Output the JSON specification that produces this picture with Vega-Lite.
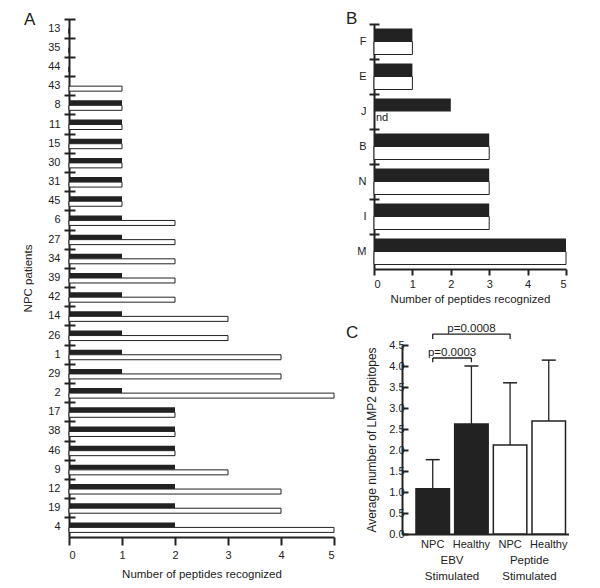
{
  "$schema": "https://vega.github.io/schema/vega-lite/v6.json",
  "padding": {"left": 22, "top": 10, "right": 0, "bottom": 0},
  "config": {
    "view": {"stroke": null},
    "font": "Liberation Sans",
    "axis": {"labelFont": "Liberation Sans", "titleFont": "Liberation Sans", "labelFontSize": 11, "titleFontSize": 11.5, "titleFontWeight": "normal", "labelColor": "#222", "titleColor": "#222", "domainColor": "#222", "tickColor": "#222", "domainWidth": 2, "tickWidth": 2, "grid": false, "labelOverlap": false},
    "title": {"font": "Liberation Sans", "fontSize": 17, "fontWeight": "normal", "anchor": "start", "frame": "group", "color": "#222", "baseline": "alphabetic"}
  },
  "datasets": {
    "panelA": [
      {"patient": "13", "stim": "EBV", "count": 0}, {"patient": "13", "stim": "Peptide", "count": 0},
      {"patient": "35", "stim": "EBV", "count": 0}, {"patient": "35", "stim": "Peptide", "count": 0},
      {"patient": "44", "stim": "EBV", "count": 0}, {"patient": "44", "stim": "Peptide", "count": 0},
      {"patient": "43", "stim": "EBV", "count": 0}, {"patient": "43", "stim": "Peptide", "count": 1},
      {"patient": "8", "stim": "EBV", "count": 1}, {"patient": "8", "stim": "Peptide", "count": 1},
      {"patient": "11", "stim": "EBV", "count": 1}, {"patient": "11", "stim": "Peptide", "count": 1},
      {"patient": "15", "stim": "EBV", "count": 1}, {"patient": "15", "stim": "Peptide", "count": 1},
      {"patient": "30", "stim": "EBV", "count": 1}, {"patient": "30", "stim": "Peptide", "count": 1},
      {"patient": "31", "stim": "EBV", "count": 1}, {"patient": "31", "stim": "Peptide", "count": 1},
      {"patient": "45", "stim": "EBV", "count": 1}, {"patient": "45", "stim": "Peptide", "count": 1},
      {"patient": "6", "stim": "EBV", "count": 1}, {"patient": "6", "stim": "Peptide", "count": 2},
      {"patient": "27", "stim": "EBV", "count": 1}, {"patient": "27", "stim": "Peptide", "count": 2},
      {"patient": "34", "stim": "EBV", "count": 1}, {"patient": "34", "stim": "Peptide", "count": 2},
      {"patient": "39", "stim": "EBV", "count": 1}, {"patient": "39", "stim": "Peptide", "count": 2},
      {"patient": "42", "stim": "EBV", "count": 1}, {"patient": "42", "stim": "Peptide", "count": 2},
      {"patient": "14", "stim": "EBV", "count": 1}, {"patient": "14", "stim": "Peptide", "count": 3},
      {"patient": "26", "stim": "EBV", "count": 1}, {"patient": "26", "stim": "Peptide", "count": 3},
      {"patient": "1", "stim": "EBV", "count": 1}, {"patient": "1", "stim": "Peptide", "count": 4},
      {"patient": "29", "stim": "EBV", "count": 1}, {"patient": "29", "stim": "Peptide", "count": 4},
      {"patient": "2", "stim": "EBV", "count": 1}, {"patient": "2", "stim": "Peptide", "count": 5},
      {"patient": "17", "stim": "EBV", "count": 2}, {"patient": "17", "stim": "Peptide", "count": 2},
      {"patient": "38", "stim": "EBV", "count": 2}, {"patient": "38", "stim": "Peptide", "count": 2},
      {"patient": "46", "stim": "EBV", "count": 2}, {"patient": "46", "stim": "Peptide", "count": 2},
      {"patient": "9", "stim": "EBV", "count": 2}, {"patient": "9", "stim": "Peptide", "count": 3},
      {"patient": "12", "stim": "EBV", "count": 2}, {"patient": "12", "stim": "Peptide", "count": 4},
      {"patient": "19", "stim": "EBV", "count": 2}, {"patient": "19", "stim": "Peptide", "count": 4},
      {"patient": "4", "stim": "EBV", "count": 2}, {"patient": "4", "stim": "Peptide", "count": 5}
    ],
    "panelB": [
      {"donor": "F", "stim": "EBV", "count": 1}, {"donor": "F", "stim": "Peptide", "count": 1},
      {"donor": "E", "stim": "EBV", "count": 1}, {"donor": "E", "stim": "Peptide", "count": 1},
      {"donor": "J", "stim": "EBV", "count": 2}, {"donor": "J", "stim": "Peptide", "count": null, "note": "nd"},
      {"donor": "B", "stim": "EBV", "count": 3}, {"donor": "B", "stim": "Peptide", "count": 3},
      {"donor": "N", "stim": "EBV", "count": 3}, {"donor": "N", "stim": "Peptide", "count": 3},
      {"donor": "I", "stim": "EBV", "count": 3}, {"donor": "I", "stim": "Peptide", "count": 3},
      {"donor": "M", "stim": "EBV", "count": 5}, {"donor": "M", "stim": "Peptide", "count": 5}
    ],
    "panelC": [
      {"cond": "EBV NPC", "stim": "EBV", "mean": 1.08, "err": 1.77},
      {"cond": "EBV Healthy", "stim": "EBV", "mean": 2.62, "err": 4.0},
      {"cond": "Peptide NPC", "stim": "Peptide", "mean": 2.12, "err": 3.6},
      {"cond": "Peptide Healthy", "stim": "Peptide", "mean": 2.69, "err": 4.14}
    ],
    "groupsC": [
      {"cond": "EBV NPC", "group": "EBV\nStimulated"},
      {"cond": "Peptide NPC", "group": "Peptide\nStimulated"}
    ],
    "bracket1": [{"x1": "EBV NPC", "x2": "EBV Healthy", "y": 4.19, "yl": 4.09, "label": "p=0.0003"}],
    "bracket2": [{"x1": "EBV NPC", "x2": "Peptide NPC", "y": 4.76, "yl": 4.64, "label": "p=0.0008"}],
    "empty": []
  },
  "bounds": "flush",
  "spacing": 40,
  "resolve": {"scale": {"yOffset": "independent"}},
  "hconcat": [
    {
      "width": 265,
      "height": 518,
      "title": {"text": "A", "dx": -45, "offset": -11},
      "data": {"name": "panelA"},
      "layer": [
        {
          "transform": [{"filter": "datum.stim === 'EBV'"}],
          "mark": {"type": "bar", "fill": "#222"},
          "encoding": {
            "y": {"field": "patient", "type": "nominal", "scale": {"domain": ["13","35","44","43","8","11","15","30","31","45","6","27","34","39","42","14","26","1","29","2","17","38","46","9","12","19","4"], "paddingInner": 0, "paddingOuter": 0}, "axis": {"title": "NPC patients", "ticks": false, "labelPadding": 9, "titlePadding": 14}},
            "x": {"field": "count", "type": "quantitative", "scale": {"domain": [0, 5], "nice": false}, "axis": {"title": "Number of peptides recognized", "values": [0,1,2,3,4,5], "tickCount": 6, "labelOverlap": false, "format": "d", "tickSize": 8, "labelPadding": 4, "titlePadding": 8}},
            "yOffset": {"field": "stim", "type": "nominal", "scale": {"domain": ["EBV","Peptide"], "paddingInner": 0, "paddingOuter": 0.92}}
          }
        },
        {
          "transform": [{"filter": "datum.stim === 'Peptide'"}],
          "mark": {"type": "bar", "fill": "#fff", "stroke": "#222", "strokeWidth": 1},
          "encoding": {
            "y": {"field": "patient", "type": "nominal", "scale": {"domain": ["13","35","44","43","8","11","15","30","31","45","6","27","34","39","42","14","26","1","29","2","17","38","46","9","12","19","4"]}, "axis": {"orient": "left", "title": null, "labels": false, "domain": false, "bandPosition": 0, "tickSize": 11, "offset": -6}},
            "x": {"field": "count", "type": "quantitative", "scale": {"domain": [0, 5], "nice": false}, "axis": {"title": "Number of peptides recognized", "values": [0,1,2,3,4,5], "tickCount": 6, "labelOverlap": false, "format": "d", "tickSize": 8, "labelPadding": 4, "titlePadding": 8}},
            "yOffset": {"field": "stim", "type": "nominal", "scale": {"domain": ["EBV","Peptide"]}}
          }
        }
      ],
      "resolve": {"axis": {"y": "independent"}}
    },
    {
      "bounds": "flush",
      "spacing": 4,
      "resolve": {"scale": {"yOffset": "independent"}},
      "vconcat": [
        {"width": 1, "height": 1, "data": {"name": "empty"}, "mark": {"type": "point", "opacity": 0}, "encoding": {}},
        {
          "width": 192,
          "height": 245,
          "title": {"text": "B", "dx": -28, "offset": -5},
          "data": {"name": "panelB"},
          "layer": [
            {
              "transform": [{"filter": "datum.stim === 'EBV'"}],
              "mark": {"type": "bar", "fill": "#222"},
              "encoding": {
                "y": {"field": "donor", "type": "nominal", "scale": {"domain": ["F","E","J","B","N","I","M"], "paddingInner": 0, "paddingOuter": 0}, "axis": {"title": null, "ticks": false, "labelPadding": 8}},
                "x": {"field": "count", "type": "quantitative", "scale": {"domain": [0, 5], "nice": false}, "axis": {"title": "Number of peptides recognized", "values": [0,1,2,3,4,5], "tickCount": 6, "labelOverlap": false, "format": "d", "tickSize": 6, "labelPadding": 3, "titlePadding": 4}},
                "yOffset": {"field": "stim", "type": "nominal", "scale": {"domain": ["EBV","Peptide"], "paddingInner": 0, "paddingOuter": 0.346}}
              }
            },
            {
              "transform": [{"filter": "datum.stim === 'Peptide'"}],
              "mark": {"type": "bar", "fill": "#fff", "stroke": "#222", "strokeWidth": 1},
              "encoding": {
                "y": {"field": "donor", "type": "nominal", "scale": {"domain": ["F","E","J","B","N","I","M"]}, "axis": {"orient": "left", "title": null, "labels": false, "domain": false, "bandPosition": 0, "tickSize": 10, "offset": -5}},
                "x": {"field": "count", "type": "quantitative", "scale": {"domain": [0, 5], "nice": false}, "axis": {"title": "Number of peptides recognized", "values": [0,1,2,3,4,5], "tickCount": 6, "labelOverlap": false, "format": "d", "tickSize": 6, "labelPadding": 3, "titlePadding": 4}},
                "yOffset": {"field": "stim", "type": "nominal", "scale": {"domain": ["EBV","Peptide"]}}
              }
            },
            {
              "transform": [{"filter": "datum.note != null"}],
              "mark": {"type": "text", "align": "left", "baseline": "middle", "dx": 2, "fontSize": 11, "color": "#222"},
              "encoding": {
                "y": {"field": "donor", "type": "nominal", "scale": {"domain": ["F","E","J","B","N","I","M"]}, "axis": null},
                "x": {"datum": 0, "type": "quantitative", "axis": {"title": "Number of peptides recognized", "values": [0,1,2,3,4,5], "tickCount": 6, "labelOverlap": false, "format": "d", "tickSize": 6, "labelPadding": 3, "titlePadding": 4}},
                "yOffset": {"field": "stim", "type": "nominal", "scale": {"domain": ["EBV","Peptide"]}},
                "text": {"field": "note"}
              }
            }
          ],
          "resolve": {"axis": {"y": "independent"}}
        },
        {
          "bounds": "flush",
          "spacing": 71,
          "vconcat": [
            {"width": 1, "height": 1, "data": {"name": "empty"}, "mark": {"type": "point", "opacity": 0}, "encoding": {}},
            {
              "bounds": "flush",
              "spacing": 27,
              "hconcat": [
                {"width": 1, "height": 1, "data": {"name": "empty"}, "mark": {"type": "point", "opacity": 0}, "encoding": {}},
                {
                  "width": 167,
                  "height": 189,
                  "title": {"text": "C", "dx": -56, "offset": -19},
                  "encoding": {
                    "y": {"type": "quantitative", "scale": {"domain": [0, 4.5], "nice": false}, "axis": {"title": "Average number of LMP2 epitopes", "titleFontSize": 12, "values": [0,0.5,1,1.5,2,2.5,3,3.5,4,4.5], "tickCount": 10, "labelOverlap": false, "format": ".1f", "tickSize": -6, "labelPadding": 4, "titlePadding": 10}}
                  },
                  "layer": [
                    {
                      "data": {"name": "panelC"},
                      "mark": {"type": "bar", "stroke": "#222", "strokeWidth": 1.5},
                      "encoding": {
                        "x": {"field": "cond", "type": "nominal", "scale": {"domain": ["EBV NPC","EBV Healthy","Peptide NPC","Peptide Healthy"], "paddingInner": 0.134, "paddingOuter": 0.226, "align": 0.8}, "axis": {"title": null, "ticks": false, "labelExpr": "split(datum.label, ' ')[1]", "labelAngle": 0, "labelPadding": 4}},
                        "y": {"field": "mean", "type": "quantitative", "scale": {"domain": [0, 4.5], "nice": false}, "axis": {"title": "Average number of LMP2 epitopes", "titleFontSize": 12, "values": [0,0.5,1,1.5,2,2.5,3,3.5,4,4.5], "tickCount": 10, "labelOverlap": false, "format": ".1f", "tickSize": -6, "labelPadding": 4, "titlePadding": 10}},
                        "fill": {"field": "stim", "type": "nominal", "scale": {"domain": ["EBV","Peptide"], "range": ["#222","#fff"]}, "legend": null}
                      }
                    },
                    {
                      "data": {"name": "panelC"},
                      "mark": {"type": "rule", "stroke": "#222", "strokeWidth": 1.3},
                      "encoding": {
                        "x": {"field": "cond", "type": "nominal", "scale": {"domain": ["EBV NPC","EBV Healthy","Peptide NPC","Peptide Healthy"]}},
                        "y": {"field": "mean", "type": "quantitative", "scale": {"domain": [0, 4.5], "nice": false}, "axis": {"title": "Average number of LMP2 epitopes", "titleFontSize": 12, "values": [0,0.5,1,1.5,2,2.5,3,3.5,4,4.5], "tickCount": 10, "labelOverlap": false, "format": ".1f", "tickSize": -6, "labelPadding": 4, "titlePadding": 10}},
                        "y2": {"field": "err"}
                      }
                    },
                    {
                      "data": {"name": "panelC"},
                      "mark": {"type": "tick", "orient": "horizontal", "size": 14, "thickness": 1.5, "color": "#222", "opacity": 1},
                      "encoding": {
                        "x": {"field": "cond", "type": "nominal", "scale": {"domain": ["EBV NPC","EBV Healthy","Peptide NPC","Peptide Healthy"]}},
                        "y": {"field": "err", "type": "quantitative", "scale": {"domain": [0, 4.5], "nice": false}, "axis": {"title": "Average number of LMP2 epitopes", "titleFontSize": 12, "values": [0,0.5,1,1.5,2,2.5,3,3.5,4,4.5], "tickCount": 10, "labelOverlap": false, "format": ".1f", "tickSize": -6, "labelPadding": 4, "titlePadding": 10}}
                      }
                    },
                    {
                      "data": {"name": "groupsC"},
                      "mark": {"type": "text", "align": "center", "baseline": "top", "dx": 19.3, "dy": 21, "fontSize": 11.5, "lineHeight": 15.5, "lineBreak": "\n", "color": "#222"},
                      "encoding": {
                        "x": {"field": "cond", "type": "nominal", "scale": {"domain": ["EBV NPC","EBV Healthy","Peptide NPC","Peptide Healthy"]}},
                        "y": {"datum": 0, "type": "quantitative", "scale": {"domain": [0, 4.5], "nice": false}, "axis": {"title": "Average number of LMP2 epitopes", "titleFontSize": 12, "values": [0,0.5,1,1.5,2,2.5,3,3.5,4,4.5], "tickCount": 10, "labelOverlap": false, "format": ".1f", "tickSize": -6, "labelPadding": 4, "titlePadding": 10}},
                        "text": {"field": "group"}
                      }
                    },
                    {
                      "data": {"name": "bracket1"},
                      "layer": [
                        {"mark": {"type": "rule", "stroke": "#222", "strokeWidth": 1.3}, "encoding": {"x": {"field": "x1", "type": "nominal", "scale": {"domain": ["EBV NPC","EBV Healthy","Peptide NPC","Peptide Healthy"]}}, "x2": {"field": "x2"}, "y": {"field": "y", "type": "quantitative"}}},
                        {"mark": {"type": "rule", "stroke": "#222", "strokeWidth": 1.3}, "encoding": {"x": {"field": "x1", "type": "nominal", "scale": {"domain": ["EBV NPC","EBV Healthy","Peptide NPC","Peptide Healthy"]}}, "y": {"field": "y", "type": "quantitative"}, "y2": {"field": "yl"}}},
                        {"mark": {"type": "rule", "stroke": "#222", "strokeWidth": 1.3}, "encoding": {"x": {"field": "x2", "type": "nominal", "scale": {"domain": ["EBV NPC","EBV Healthy","Peptide NPC","Peptide Healthy"]}}, "y": {"field": "y", "type": "quantitative"}, "y2": {"field": "yl"}}},
                        {"mark": {"type": "text", "align": "center", "baseline": "alphabetic", "dx": 19.3, "dy": -2, "fontSize": 11.5, "color": "#222"}, "encoding": {"x": {"field": "x1", "type": "nominal", "scale": {"domain": ["EBV NPC","EBV Healthy","Peptide NPC","Peptide Healthy"]}}, "y": {"field": "y", "type": "quantitative"}, "text": {"field": "label"}}}
                      ]
                    },
                    {
                      "data": {"name": "bracket2"},
                      "layer": [
                        {"mark": {"type": "rule", "stroke": "#222", "strokeWidth": 1.3}, "encoding": {"x": {"field": "x1", "type": "nominal", "scale": {"domain": ["EBV NPC","EBV Healthy","Peptide NPC","Peptide Healthy"]}}, "x2": {"field": "x2"}, "y": {"field": "y", "type": "quantitative"}}},
                        {"mark": {"type": "rule", "stroke": "#222", "strokeWidth": 1.3}, "encoding": {"x": {"field": "x1", "type": "nominal", "scale": {"domain": ["EBV NPC","EBV Healthy","Peptide NPC","Peptide Healthy"]}}, "y": {"field": "y", "type": "quantitative"}, "y2": {"field": "yl"}}},
                        {"mark": {"type": "rule", "stroke": "#222", "strokeWidth": 1.3}, "encoding": {"x": {"field": "x2", "type": "nominal", "scale": {"domain": ["EBV NPC","EBV Healthy","Peptide NPC","Peptide Healthy"]}}, "y": {"field": "y", "type": "quantitative"}, "y2": {"field": "yl"}}},
                        {"mark": {"type": "text", "align": "center", "baseline": "alphabetic", "dx": 38.7, "dy": -2, "fontSize": 11.5, "color": "#222"}, "encoding": {"x": {"field": "x1", "type": "nominal", "scale": {"domain": ["EBV NPC","EBV Healthy","Peptide NPC","Peptide Healthy"]}}, "y": {"field": "y", "type": "quantitative"}, "text": {"field": "label"}}}
                      ]
                    }
                  ]
                }
              ]
            }
          ]
        }
      ]
    }
  ]
}
